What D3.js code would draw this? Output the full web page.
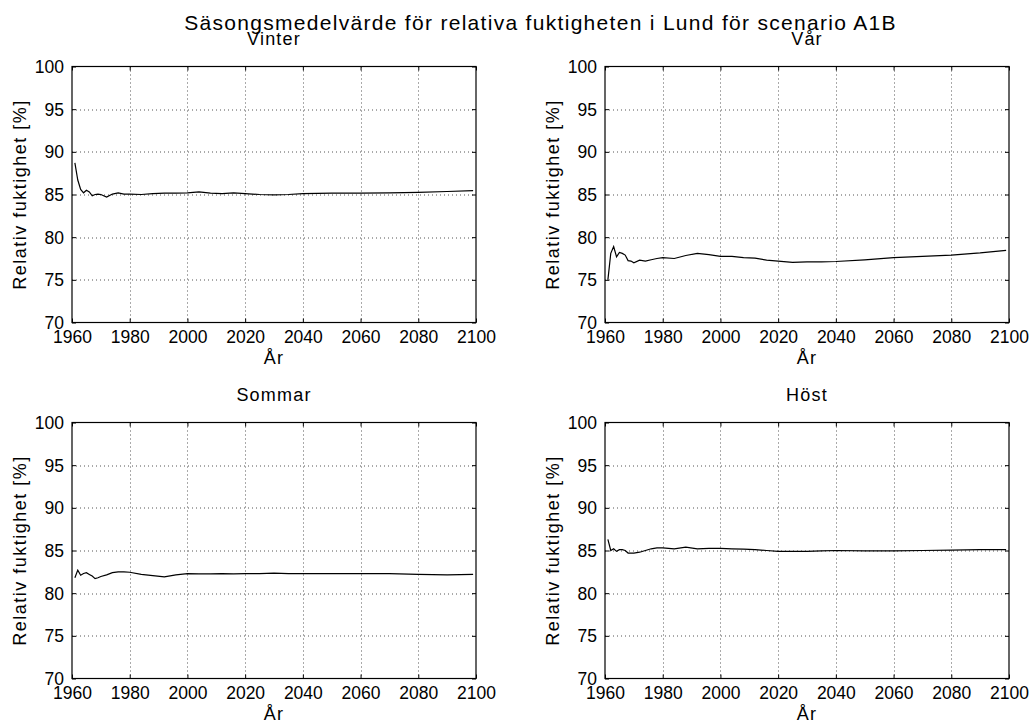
<!DOCTYPE html>
<html><head><meta charset="utf-8">
<script src="https://cdn.jsdelivr.net/npm/d3@7"></script>
<style>body{margin:0;background:#fff}svg{display:block}text{font-family:"Liberation Sans",Arial,sans-serif;fill:#000}</style>
</head><body>
<svg id="c" width="1033" height="724"></svg>
<script>
const title = "Säsongsmedelvärde för relativa fuktigheten i Lund för scenario A1B";
const panelTitles = ["Vinter", "Vår", "Sommar", "Höst"];
const xLabel = "År";
const yLabel = "Relativ fuktighet [%]";
const xTicks = [1960, 1980, 2000, 2020, 2040, 2060, 2080, 2100];
const yTicks = [70, 75, 80, 85, 90, 95, 100];
const years = [1961,1962,1963,1964,1965,1966,1967,1968,1969,1970,1972,1974,1976,1978,1980,1984,1988,1992,1996,2000,2004,2008,2012,2016,2020,2025,2030,2035,2040,2050,2060,2070,2080,2090,2099];
const vinter = [88.7,86.7,85.6,85.2,85.5,85.3,84.85,85.0,85.05,85.0,84.7,85.05,85.2,85.05,85.05,85.0,85.1,85.15,85.15,85.2,85.3,85.15,85.1,85.2,85.1,85.0,84.95,85.0,85.1,85.15,85.15,85.2,85.25,85.35,85.45];
const var_ = [75.0,78.1,78.9,77.7,78.2,78.1,77.9,77.25,77.2,77.0,77.3,77.2,77.35,77.5,77.6,77.5,77.85,78.1,77.95,77.75,77.75,77.6,77.55,77.3,77.2,77.05,77.1,77.1,77.15,77.35,77.6,77.75,77.9,78.15,78.45];
const sommar = [81.8,82.7,82.1,82.3,82.4,82.2,82.0,81.7,81.8,81.95,82.15,82.4,82.5,82.5,82.45,82.2,82.05,81.9,82.15,82.3,82.25,82.25,82.3,82.25,82.3,82.3,82.35,82.3,82.3,82.3,82.3,82.3,82.2,82.15,82.2];
const host = [86.3,85.0,85.2,84.9,85.1,85.1,85.0,84.7,84.7,84.7,84.8,85.0,85.2,85.3,85.3,85.2,85.4,85.2,85.25,85.25,85.2,85.15,85.1,85.0,84.9,84.9,84.9,84.95,85.0,84.95,84.95,85.0,85.05,85.1,85.1];
const series = [vinter, var_, sommar, host];

const svg = d3.select("#c");
svg.append("text").attr("x", 540.5).attr("y", 30).attr("text-anchor", "middle")
  .style("font-size", "21px").style("letter-spacing", "1.3px").text(title);

const lefts = [72, 605, 72, 605];
const tops = [66.5, 66.5, 422.5, 422.5];
const W = 404, H = 256;

series.forEach((vals, i) => {
  const g = svg.append("g").attr("transform", `translate(${lefts[i]},${tops[i]})`);
  const x = d3.scaleLinear().domain([1960, 2100]).range([0, W]);
  const y = d3.scaleLinear().domain([70, 100]).range([H, 0]);
  // grid
  g.append("g").selectAll("line").data(xTicks.slice(1, -1)).join("line")
    .attr("x1", d => Math.round(x(d)) + 0.5).attr("x2", d => Math.round(x(d)) + 0.5)
    .attr("y1", 0).attr("y2", H).attr("stroke", "#555").attr("stroke-dasharray", "1,3");
  g.append("g").selectAll("line").data(yTicks.slice(1, -1)).join("line")
    .attr("y1", d => Math.round(y(d)) + 0.5).attr("y2", d => Math.round(y(d)) + 0.5)
    .attr("x1", 0).attr("x2", W).attr("stroke", "#555").attr("stroke-dasharray", "1,3");
  // axes
  const ax = g.append("g").attr("transform", `translate(0,${H})`)
    .call(d3.axisBottom(x).tickValues(xTicks).tickFormat(d3.format("d")).tickSizeInner(-4).tickSizeOuter(0).tickPadding(8));
  const ay = g.append("g")
    .call(d3.axisLeft(y).tickValues(yTicks).tickSizeInner(-4).tickSizeOuter(0).tickPadding(8));
  const axt = g.append("g").call(d3.axisTop(x).tickValues(xTicks).tickFormat("").tickSizeInner(-4).tickSizeOuter(0));
  const ayr = g.append("g").attr("transform", `translate(${W},0)`)
    .call(d3.axisRight(y).tickValues(yTicks).tickFormat("").tickSizeInner(-4).tickSizeOuter(0));
  [ax, ay, axt, ayr].forEach(a => { a.select(".domain").remove(); a.selectAll("line").attr("stroke", "#000"); });
  ax.selectAll("text").style("font-size", "17.5px").attr("fill", "#000").attr("dy", "0.71em");
  ay.selectAll("text").style("font-size", "17.5px").attr("fill", "#000").attr("dy", "0.35em");
  g.append("rect").attr("x", 0).attr("y", 0).attr("width", W).attr("height", H)
    .attr("fill", "none").attr("stroke", "#000").attr("stroke-width", 1.2);
  // line
  g.append("path").datum(years.map((yr, k) => [yr, vals[k]]))
    .attr("fill", "none").attr("stroke", "#000").attr("stroke-width", 1.2)
    .attr("d", d3.line().x(d => x(d[0])).y(d => y(d[1])));
  // titles/labels
  g.append("text").attr("x", W / 2).attr("y", -21.5).attr("text-anchor", "middle")
    .style("font-size", "18px").style("letter-spacing", "1.2px").text(panelTitles[i]);
  g.append("text").attr("x", W / 2).attr("y", H + 41).attr("text-anchor", "middle")
    .style("font-size", "18px").style("letter-spacing", "1.2px").text(xLabel);
  g.append("text").attr("transform", `translate(-46,${H / 2}) rotate(-90)`).attr("text-anchor", "middle")
    .style("font-size", "18px").style("letter-spacing", "1.5px").text(yLabel);
});
</script>
</body></html>
